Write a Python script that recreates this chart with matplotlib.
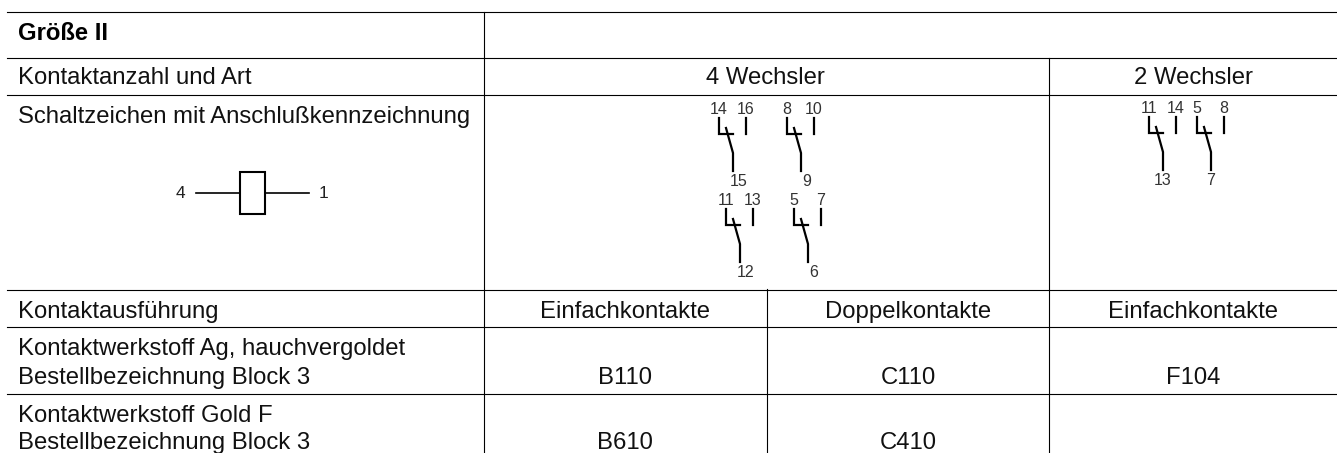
import matplotlib.pyplot as plt
from matplotlib.patches import Rectangle

plt.rcParams["font.family"] = ["Liberation Sans", "DejaVu Sans"]

row_labels = [
    "Kontaktanzahl und Art",
    "Schaltzeichen mit Anschlußkennzeichnung",
    "Kontaktausführung",
    "Kontaktwerkstoff Ag, hauchvergoldet",
    "Bestellbezeichnung Block 3",
    "Kontaktwerkstoff Gold F",
    "Bestellbezeichnung Block 3",
]
row_baselines = [84, 123, 318, 355, 384, 422, 449]

header = ["4 Wechsler", "2 Wechsler"]
ausfuehrung = ["Einfachkontakte", "Doppelkontakte", "Einfachkontakte"]
ag_codes = ["B110", "C110", "F104"]
gold_codes = ["B610", "C410"]

contacts_4 = [("14", "16", "15"), ("8", "10", "9"), ("11", "13", "12"), ("5", "7", "6")]
contacts_2 = [("11", "14", "13"), ("5", "8", "7")]

fs = 17.2
fig = plt.figure(figsize=(13.37, 4.53), dpi=100)
ax = fig.add_axes([0, 0, 1, 1])
ax.set_xlim(0, 1337)
ax.set_ylim(453, 0)
ax.axis("off")

# table lines
for y in [12, 58, 95, 290, 327, 394]:
    ax.plot([7, 1337], [y, y], color="black", lw=0.8)
ax.plot([483.5, 483.5], [12, 453], color="black", lw=0.8)
ax.plot([767, 767], [289, 453], color="black", lw=0.8)
ax.plot([1048.5, 1048.5], [58, 453], color="black", lw=0.8)

# text
ax.text(18, 40, "Größe II", fontsize=fs, fontweight="bold", va="baseline")
for label, y in zip(row_labels, row_baselines):
    ax.text(18, y, label, fontsize=fs, va="baseline", color="#111111")

for label, x in zip(header, [765, 1193]):
    ax.text(x, 84, label, fontsize=fs, ha="center", va="baseline", color="#111111")
for label, x in zip(ausfuehrung, [625, 908, 1193]):
    ax.text(x, 318, label, fontsize=fs, ha="center", va="baseline", color="#111111")
for label, x in zip(ag_codes, [625, 908, 1193]):
    ax.text(x, 384, label, fontsize=fs, ha="center", va="baseline", color="#111111")
for label, x in zip(gold_codes, [625, 908]):
    ax.text(x, 449, label, fontsize=fs, ha="center", va="baseline", color="#111111")


# coil symbol
ax.add_patch(Rectangle((240, 172), 25, 42, fill=False, edgecolor="black", lw=1.5))
ax.plot([196, 240], [193, 193], color="black", lw=1.2)
ax.plot([265, 309], [193, 193], color="black", lw=1.2)
ax.text(180, 198, "4", fontsize=12.5, ha="center", va="baseline", color="#222222")
ax.text(323, 198, "1", fontsize=12.5, ha="center", va="baseline", color="#222222")


def draw_contact(x, y, labels, label_dx):
    ax.plot([x, x, x + 14], [y, y + 16, y + 16], color="black", lw=1.6,
            solid_joinstyle="miter")
    ax.plot([x + 7, x + 14, x + 14], [y + 10, y + 35, y + 53], color="black", lw=1.6)
    ax.plot([x + 27, x + 27], [y, y + 16], color="black", lw=1.6)
    ax.text(x, y - 4, labels[0], fontsize=11.5, ha="center", va="baseline", color="#333333")
    ax.text(x + 27, y - 4, labels[1], fontsize=11.5, ha="center", va="baseline", color="#333333")
    ax.text(x + label_dx, y + 68, labels[2], fontsize=11.5, ha="center", va="baseline",
            color="#333333")


for labels, (x, y) in zip(contacts_4, [(719, 118), (787, 118), (726, 209), (794, 209)]):
    draw_contact(x, y, labels, 20)
for labels, (x, y) in zip(contacts_2, [(1149, 117), (1197, 117)]):
    draw_contact(x, y, labels, 14)

fig.savefig("out.png", dpi=100)
